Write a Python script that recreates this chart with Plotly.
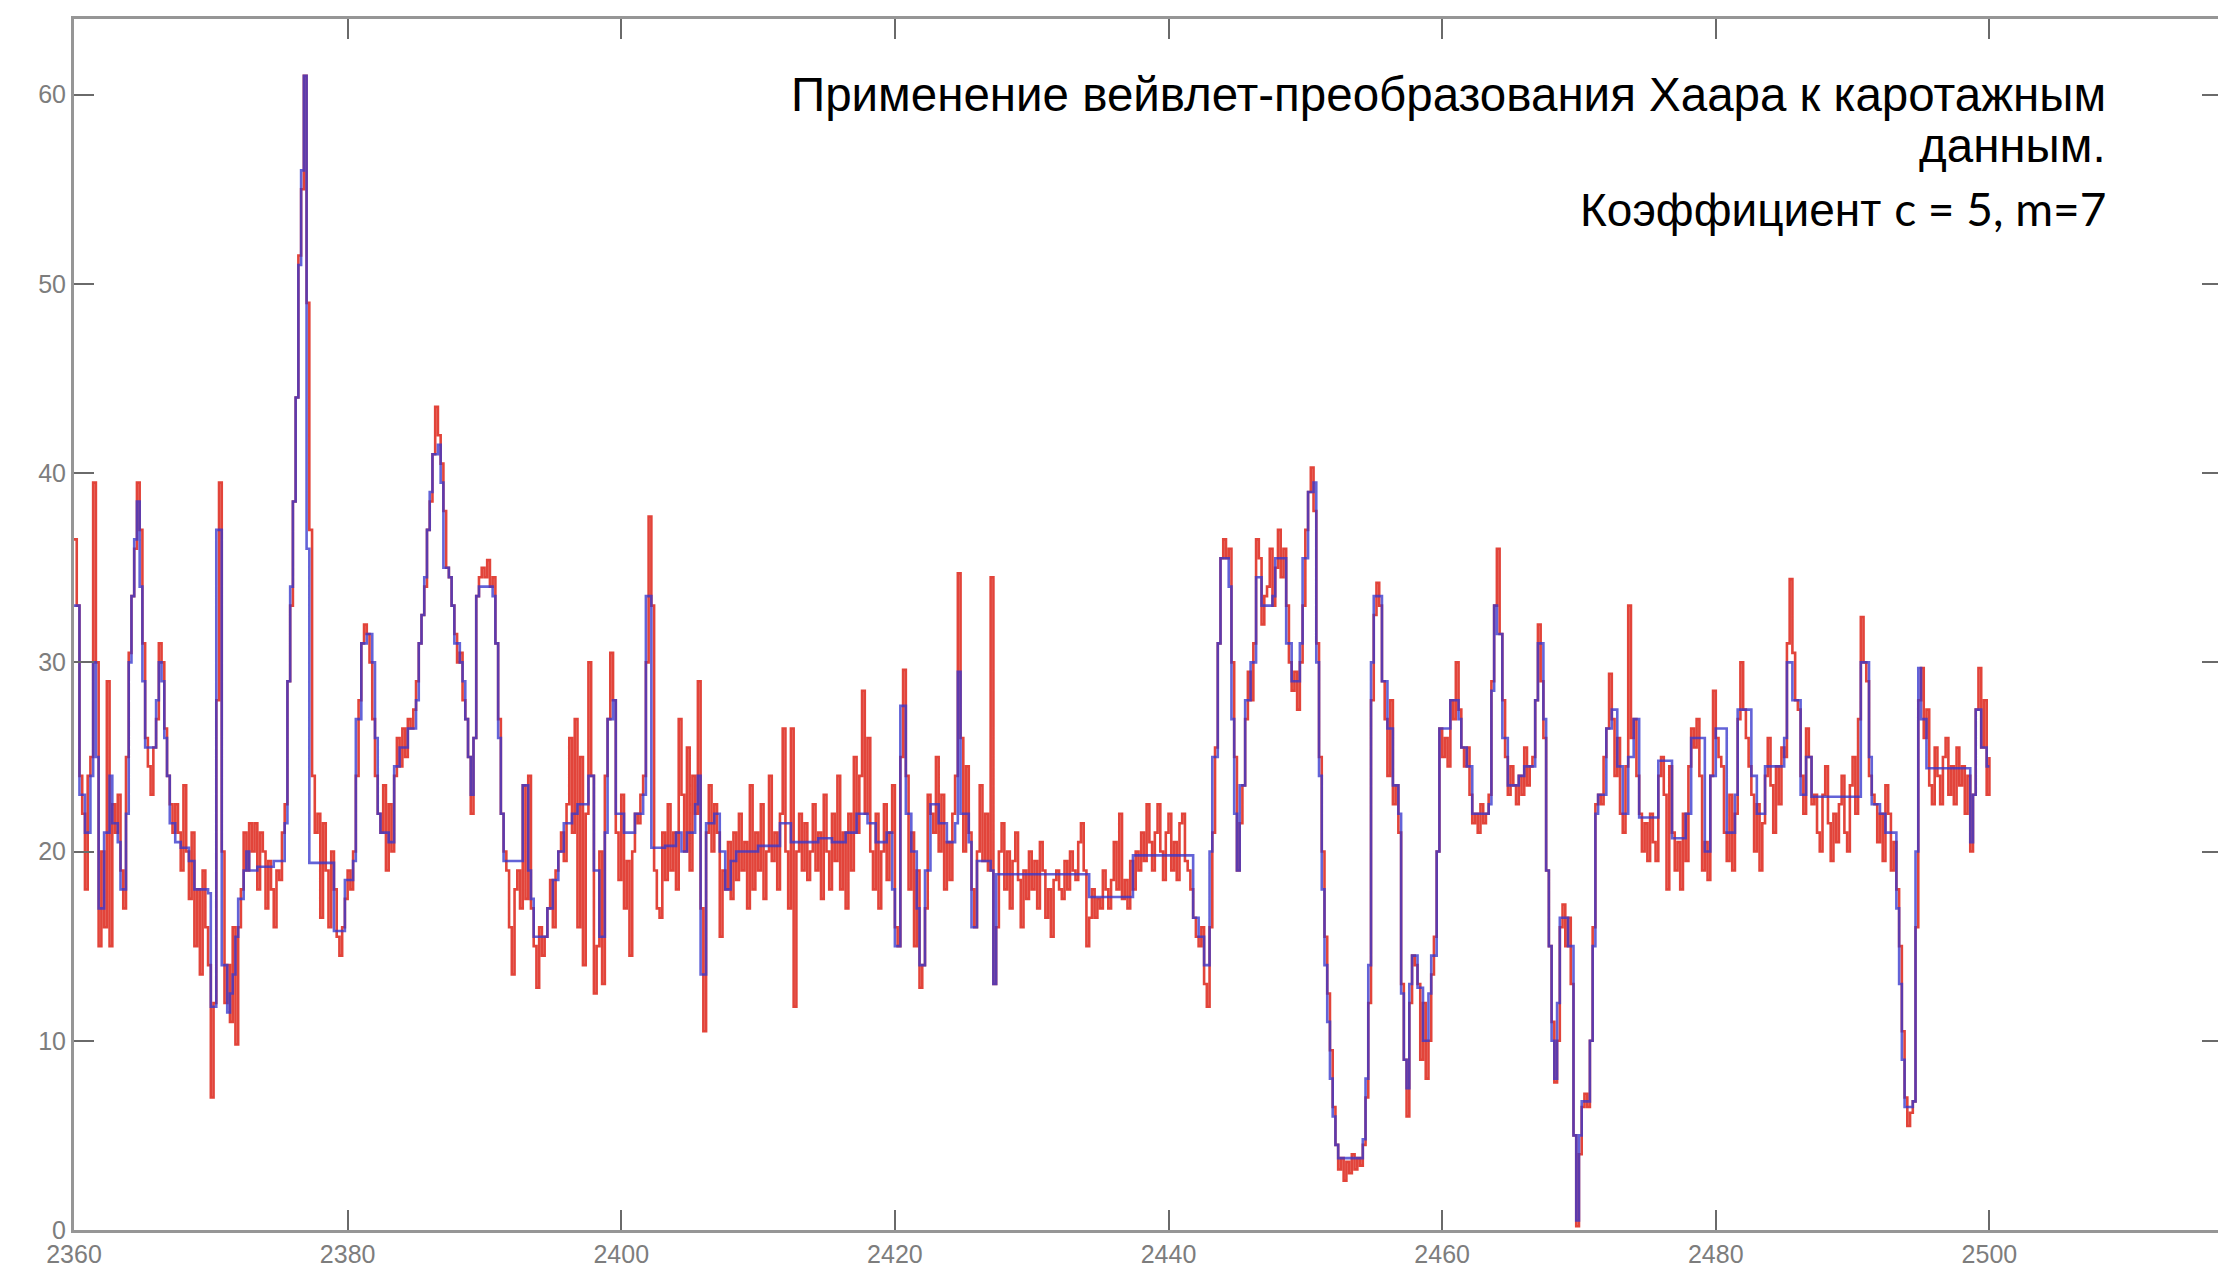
import plotly.graph_objects as go

# ---------------- data: original log (red), sampled every 0.2 m ----------------
red_2360 = [36.5, 33, 24, 22, 18, 24, 25, 39.5, 30, 15,
            20, 16, 29, 15, 22.5, 21, 23, 19, 17, 25,
            30.5, 33.5, 36, 39.5, 37, 31, 26, 24.5, 23, 25.5,
            27, 31, 30, 26.5, 24, 22.5, 21, 22.5, 21, 19,
            23.5, 20, 17.5, 21, 15, 18, 13.5, 19, 16, 14]
red_2370 = [7, 12, 28, 39.5, 20, 12, 14, 11, 16, 9.8,
            16, 18, 21, 19, 21.5, 20, 21.5, 18, 21, 20,
            17, 19.5, 18, 16, 19, 18.5, 21, 22.5, 29, 33,
            38.5, 44, 51.5, 55, 61, 49, 37, 24, 21, 22,
            16.5, 21.5, 19, 16, 20, 18, 15.5, 14.5, 16, 17.5]
red_2380 = [19, 18, 20, 24, 28, 31, 32, 31.5, 30, 27,
            24, 22, 21, 23.5, 19, 22.5, 20, 24, 26, 24.5,
            26.5, 25, 27, 26.5, 27.5, 29, 31, 32.5, 34, 37,
            38.5, 41, 43.5, 42, 40.5, 38, 35, 34.5, 33, 31.5,
            30, 30.5, 28, 27, 25, 22, 26, 33.5, 34.5, 35]
red_2390 = [34.5, 35.4, 34, 34.5, 31, 27, 22, 20, 19, 16,
            13.5, 18, 19, 17, 23.5, 17.5, 24, 17, 15, 12.8,
            16, 14.5, 15.5, 17, 18.5, 16, 19, 20, 21, 19.5,
            22.5, 26, 21, 27, 16, 25, 14, 22, 30, 24,
            12.5, 15, 20, 13, 24, 27, 30.5, 28, 21, 18.5]
red_2400 = [23, 17, 19.5, 14.5, 20, 22, 21.5, 23, 24, 30,
            37.7, 33, 19, 17, 16.5, 21, 18.5, 22.5, 19, 21,
            18, 27, 23, 20, 25.5, 19, 24, 22, 29, 17,
            10.5, 21, 23.5, 20, 22.5, 21, 15.5, 19, 18, 20.5,
            17.5, 21, 18.5, 22, 19, 20.5, 17, 23.5, 18, 21]
red_2410 = [19, 22.5, 17.5, 20, 24, 19.5, 21, 18, 22, 26.5,
            20, 17, 26.5, 11.8, 20, 22, 19, 21.5, 18.5, 20,
            22.5, 19, 21, 17.5, 23, 20, 18, 22, 19.5, 24,
            18, 21, 17, 22, 19, 25, 21, 24, 28.5, 22,
            26, 20, 18, 22, 17, 20, 22.5, 18.5, 21, 23.5]
red_2420 = [16, 15, 25, 29.6, 24, 18, 21, 15, 19, 12.8,
            14, 17, 23, 22, 21, 25, 20, 23, 18, 20.5,
            18.5, 22, 24, 34.7, 26, 20, 24.5, 21, 18, 16,
            20, 23.5, 19.5, 22, 19, 34.5, 13, 16, 20, 21.5,
            18, 20, 17, 19.5, 21, 18.5, 16, 19, 17.5, 20]
red_2430 = [18, 19.5, 17, 20.5, 19, 16.5, 18, 15.5, 18.5, 19,
            18, 17.5, 19.5, 18, 20, 19, 18.5, 20.5, 21.5, 19,
            15, 16.5, 18, 16.5, 17.5, 17, 19, 18, 17, 18.5,
            20.5, 18, 22, 17.5, 18.5, 17, 19.5, 18, 20, 19,
            21, 19.5, 22.5, 20.5, 19, 21, 22.5, 20, 18.5, 21]
red_2440 = [22, 19, 20.5, 18.5, 21.5, 22, 19.5, 19, 18, 16.5,
            15.5, 15, 16, 13, 11.8, 16, 21, 25.5, 31, 35.5,
            36.5, 35.5, 36, 30, 25, 19, 21.5, 23.5, 27, 29.5,
            28, 31, 36.5, 35.5, 32, 33.5, 34, 36, 33, 35,
            37, 34.5, 36, 33, 30, 28.5, 29.5, 27.5, 30, 33]
red_2450 = [37, 39, 40.3, 38, 31, 25, 20, 15.5, 12.5, 9.5,
            6.5, 4.5, 3.2, 3.8, 2.6, 3.6, 3.0, 4, 3.2, 3.8,
            3.4, 4.5, 7, 12, 28, 32.5, 34.2, 33, 29, 27,
            24, 28, 22.5, 23.5, 21, 13, 9, 6, 12, 14.5,
            14, 13, 9, 12, 8, 10, 13.5, 15.5, 20, 26.5]
red_2460 = [25, 26, 24.5, 28, 27, 30, 27.5, 25.5, 24.5, 25.5,
            23, 21.5, 22, 21, 22.5, 21.5, 22, 23, 29, 33,
            36, 31.5, 28, 25, 23, 24.5, 23.5, 22.5, 24, 23,
            25.5, 23.5, 24.5, 25, 28, 32, 29, 26, 19, 15,
            11, 7.8, 10, 16, 17.2, 15, 16.5, 13, 5, 0.2]
red_2470 = [4, 6.5, 7.2, 6.5, 10, 16, 22.5, 23, 22.5, 25,
            26.5, 29.4, 27, 24, 26, 22, 21, 24.5, 33, 26,
            27, 24, 22, 20, 21.5, 19.5, 22, 20.5, 19.5, 24,
            25, 23, 18, 24.5, 21, 19, 20.5, 18, 22, 19.5,
            24.5, 26.5, 25.5, 27, 24, 19, 20.5, 18.5, 24, 28.5]
red_2480 = [26, 25, 24.5, 21, 19.5, 23, 19, 22, 27, 30,
            27.5, 26, 24.5, 23, 20, 22.5, 19, 21.5, 24, 26,
            23.5, 21, 24.5, 22.5, 25.5, 25, 31, 34.4, 30.5, 28,
            27.5, 24, 22, 26.5, 25, 22.5, 23, 21, 20, 23,
            24.5, 21.5, 19.5, 22, 20.5, 22.5, 24, 21, 20, 23.5]
red_2490 = [25, 22, 27, 32.4, 30, 29, 24, 23, 22.5, 20.5,
            22, 19.5, 23.5, 22, 19, 20.5, 18, 15, 10.5, 7,
            5.5, 6.2, 6.8, 16, 28, 29.7, 26, 27.5, 23.5, 22.5,
            25.5, 24, 22.5, 25, 26, 23, 24.5, 22.5, 25.5, 23.5,
            24.5, 22, 24, 20, 23, 27.5, 29.7, 25.5, 28, 23]
red_last = 25

red_segments = [(2360, red_2360), (2370, red_2370), (2380, red_2380), (2390, red_2390),
                (2400, red_2400), (2410, red_2410), (2420, red_2420), (2430, red_2430),
                (2440, red_2440), (2450, red_2450), (2460, red_2460), (2470, red_2470),
                (2480, red_2480), (2490, red_2490)]
red_step = 0.2

# ---------------- data: Haar wavelet approximation (blue, step function) ----------------
blue_depth = [2360.0, 2360.4, 2360.8, 2361.2, 2361.4, 2361.6, 2361.8, 2362.2, 2362.6, 2362.8,
              2363.2, 2363.4, 2363.8, 2364.0, 2364.2, 2364.4, 2364.6, 2364.8, 2365.0, 2365.2,
              2365.8, 2366.0, 2366.2, 2366.4, 2366.6, 2366.8, 2367.0, 2367.4, 2367.8, 2368.4,
              2368.8, 2369.8, 2370.0, 2370.4, 2370.8, 2371.2, 2371.4, 2371.6, 2371.8, 2372.0,
              2372.4, 2372.6, 2372.8, 2373.4, 2374.6, 2375.0, 2375.4, 2375.6, 2375.8, 2376.0,
              2376.2, 2376.4, 2376.6, 2376.8, 2377.0, 2377.2, 2378.0, 2379.0, 2379.8, 2380.4,
              2380.6, 2381.0, 2381.4, 2381.8, 2382.0, 2382.2, 2382.4, 2383.0, 2383.4, 2383.8,
              2384.4, 2385.0, 2385.2, 2385.4, 2385.6, 2385.8, 2386.0, 2386.2, 2386.6, 2386.8,
              2387.0, 2387.4, 2387.6, 2387.8, 2388.2, 2388.4, 2388.6, 2388.8, 2389.0, 2389.2,
              2389.4, 2389.6, 2390.6, 2390.8, 2391.0, 2391.2, 2391.4, 2392.6, 2392.8, 2393.2,
              2393.4, 2393.6, 2394.4, 2394.6, 2395.0, 2395.4, 2395.8, 2396.4, 2396.8, 2397.6,
              2398.0, 2398.4, 2398.8, 2399.0, 2399.4, 2399.6, 2400.2, 2401.0, 2401.6, 2401.8,
              2402.2, 2403.2, 2404.0, 2404.4, 2404.8, 2405.4, 2405.6, 2405.8, 2406.2, 2406.8,
              2407.2, 2407.6, 2408.0, 2408.4, 2410.0, 2411.6, 2412.4, 2413.0, 2414.4, 2415.4,
              2416.4, 2417.2, 2418.0, 2418.6, 2419.4, 2419.8, 2420.0, 2420.4, 2420.8, 2421.2,
              2421.6, 2421.8, 2422.2, 2422.6, 2423.2, 2423.8, 2424.4, 2424.6, 2424.8, 2425.4,
              2425.6, 2426.0, 2427.0, 2427.2, 2427.4, 2433.8, 2434.2, 2437.4, 2441.6, 2441.8,
              2442.2, 2442.6, 2443.0, 2443.2, 2443.6, 2443.8, 2444.4, 2444.6, 2444.8, 2445.0,
              2445.2, 2445.6, 2446.0, 2446.4, 2446.8, 2447.6, 2447.8, 2448.6, 2449.0, 2449.6,
              2449.8, 2450.2, 2450.6, 2450.8, 2451.0, 2451.2, 2451.4, 2451.6, 2451.8, 2452.0,
              2452.2, 2452.4, 2454.2, 2454.4, 2454.6, 2454.8, 2455.0, 2455.6, 2456.0, 2456.4,
              2456.8, 2457.0, 2457.2, 2457.4, 2457.6, 2457.8, 2458.2, 2458.6, 2459.0, 2459.2,
              2459.6, 2459.8, 2460.6, 2461.2, 2461.4, 2461.8, 2462.2, 2463.4, 2463.6, 2463.8,
              2464.0, 2464.4, 2464.8, 2465.6, 2466.0, 2466.8, 2467.0, 2467.4, 2467.6, 2467.8,
              2468.0, 2468.2, 2468.4, 2468.6, 2469.2, 2469.6, 2469.8, 2470.0, 2470.2, 2470.8,
              2471.0, 2471.2, 2471.4, 2472.0, 2472.4, 2472.8, 2473.2, 2473.6, 2474.0, 2474.4,
              2475.8, 2476.8, 2477.8, 2478.2, 2479.2, 2479.6, 2480.0, 2480.8, 2481.4, 2481.6,
              2482.6, 2483.0, 2483.6, 2485.0, 2485.2, 2485.6, 2486.2, 2486.6, 2487.0, 2490.4,
              2490.6, 2491.2, 2491.4, 2492.0, 2492.4, 2493.2, 2493.4, 2493.6, 2493.8, 2494.4,
              2494.6, 2494.8, 2495.0, 2495.4, 2498.4, 2498.6, 2498.8, 2499.0, 2499.4, 2499.8,
              2500.0]
blue_value = [33, 23, 21, 24, 30, 25, 17, 21, 24, 21.5,
              20.5, 18, 22, 30, 33.5, 36.5, 38.5, 34, 29, 25.5,
              25.5, 28, 30, 29, 26, 24, 21.5, 20.5, 20.2, 19.5,
              18, 17.8, 11.8, 37, 14, 11.5, 12.5, 13.5, 15.5, 17.5,
              19, 20, 19, 19.2, 19.5, 19.5, 21.5, 29, 34, 38.5,
              44, 51, 56, 61, 36, 19.4, 19.4, 15.8, 18.5, 19.5,
              27, 31, 31.5, 30, 26, 22, 21, 20.5, 24.5, 25.5,
              26.5, 28, 31, 32.5, 34.5, 37, 39, 41, 41.5, 39.5,
              35, 34.5, 33, 31, 30, 29, 27, 25, 23, 26,
              33.5, 34, 33.5, 31, 26, 22, 19.5, 19.5, 23.5, 19,
              17.5, 15.5, 15.5, 17, 18.5, 20, 21.5, 22, 22.5, 24,
              19, 15.5, 21, 27, 28, 22, 21, 22, 23, 33.5,
              20.2, 20.3, 21, 20, 21, 22.5, 24, 13.5, 21.5, 22,
              20, 18, 19.5, 20, 20.3, 21.5, 20.5, 20.5, 20.7, 20.5,
              21, 22, 21.5, 20.5, 21, 18, 15, 27.7, 22, 20,
              17, 14, 19, 22.5, 21.5, 20.5, 21.5, 29.5, 22, 20.5,
              16, 19.5, 19, 13, 18.8, 18.8, 17.6, 19.8, 19.8, 16.5,
              15.5, 14, 20, 25, 31, 35.5, 34, 27, 22, 19,
              23.5, 28, 30, 34.5, 33, 33.5, 35.5, 31, 29, 31,
              35.5, 39, 39.5, 30, 24, 18, 14, 11, 8, 6,
              4.5, 3.8, 4.8, 8, 14, 30, 33.5, 29, 26.5, 23.5,
              22, 12.5, 9, 7.5, 13, 14.5, 12.8, 10, 12.5, 14.5,
              20, 26.5, 28, 27, 25.5, 24.5, 22, 22.5, 28.5, 33,
              31.5, 26, 23.5, 24, 24.5, 28, 31, 27, 19, 15,
              10, 8, 12, 16.5, 15, 5, 0.5, 5, 6.8, 10,
              15, 22, 23, 26.5, 27.5, 24.5, 22, 25, 27, 21.8,
              24.8, 20.7, 22, 26, 20, 24, 26.5, 21, 23, 27.5,
              24, 22, 24.5, 26, 30, 28, 23, 25, 22.9, 22.9,
              30, 25, 22.5, 22, 21, 17, 13, 9, 6.5, 6.8,
              20, 29.7, 27, 24.4, 24.4, 20.5, 23, 27.5, 25.5, 24.5,
              24.5]

# ---------------- axes / labels ----------------
x_ticks = [2360, 2380, 2400, 2420, 2440, 2460, 2480, 2500]
y_ticks = [0, 10, 20, 30, 40, 50, 60]
title_lines = ["Применение вейвлет-преобразования Хаара к каротажным",
               "данным.",
               "Коэффициент <span style='font-family:Lato'>c = 5, m=7</span>"]

# ---------------- build series ----------------
red_depth, red_value = [], []
for start, vals in red_segments:
    for i, v in enumerate(vals):
        red_depth.append(round(start + red_step * i, 1))
        red_value.append(v)
red_depth.append(2500.0)
red_value.append(red_last)

W, H = 2226, 1268
ml, mr, mt, mb = 66, 12, 8, 41

fig = go.Figure()
fig.add_trace(go.Scatter(x=red_depth, y=red_value, mode="lines",
                         line=dict(color="rgb(226,68,58)", width=2.6, shape="hv"),
                         showlegend=False))
fig.add_trace(go.Scatter(x=blue_depth, y=blue_value, mode="lines",
                         line=dict(color="rgba(55,55,205,0.78)", width=2.6, shape="hv"),
                         showlegend=False))

tickfont = dict(family="Liberation Sans, Arial, sans-serif", size=25, color="#7d7d7d")
fig.update_xaxes(range=[2360, 2517], tickvals=x_ticks, ticks="inside", ticklen=20,
                 tickwidth=2, tickcolor="#6a6a6a", showline=True, linewidth=3,
                 linecolor="rgb(150,150,150)", mirror="ticks", showgrid=False,
                 zeroline=False, tickfont=tickfont)
fig.update_yaxes(range=[0, 64], tickvals=y_ticks, ticks="inside", ticklen=20,
                 tickwidth=2, tickcolor="#6a6a6a", showline=True, linewidth=3,
                 linecolor="rgb(150,150,150)", mirror="ticks", showgrid=False,
                 zeroline=False, tickfont=tickfont)

plot_h = H - mt - mb
line_centers_px = [84, 135, 199]
line_sizes = [47.5, 47.5, 46]
for txt, cy, fs in zip(title_lines, line_centers_px, line_sizes):
    fig.add_annotation(text=txt, xref="paper", yref="paper",
                       x=(2100 - ml) / (W - ml - mr), y=1 - (cy - mt) / plot_h,
                       xanchor="right", yanchor="middle", showarrow=False, align="right",
                       font=dict(family="Liberation Sans, Arial, sans-serif", size=fs,
                                 color="black"))

fig.update_layout(width=W, height=H, margin=dict(l=ml, r=mr, t=mt, b=mb),
                  paper_bgcolor="white", plot_bgcolor="white")

fig.write_html("out.html")
